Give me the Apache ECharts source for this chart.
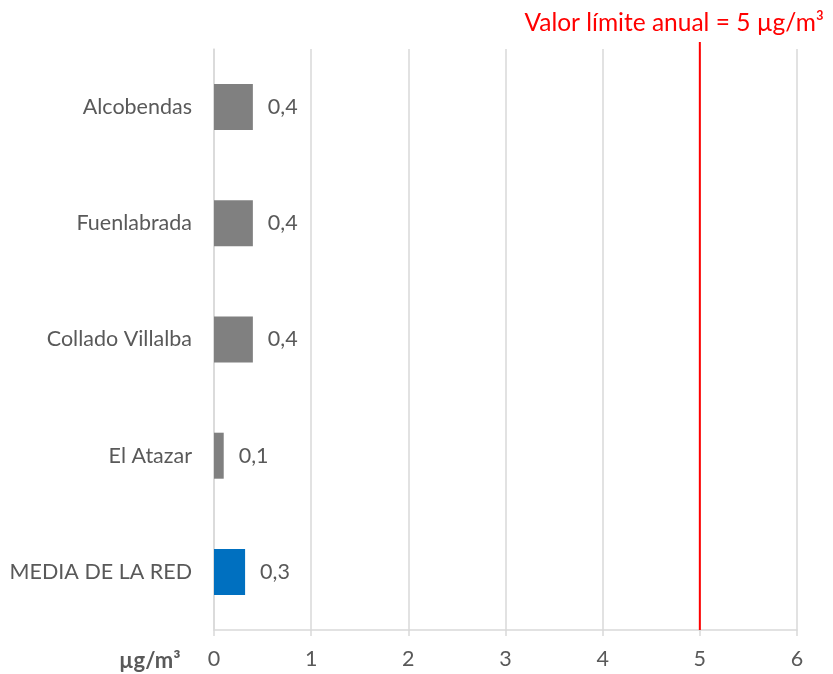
<!DOCTYPE html>
<html lang="es">
<head>
    <meta charset="UTF-8">
    <title>Valor límite anual</title>
    <script type="text/javascript" src="https://cdn.jsdelivr.net/npm/echarts@6/dist/echarts.min.js"></script>
</head>
<body style="margin:0;background:#fff">
<div id="main" style="width: 833px;height: 674px"></div>
</body>
<script>
    // datos (de arriba a abajo)
    var estaciones = ["Alcobendas", "Fuenlabrada", "Collado Villalba", "El Atazar", "MEDIA DE LA RED"]
    var valores = [0.4, 0.4, 0.4, 0.1, 0.32]
    var colores = ["#808080", "#808080", "#808080", "#808080", "#0070C0"]
    var limite = 5
    var ticksX = [0, 1, 2, 3, 4, 5, 6]

    var fuente = "Lato"
    var gris = "#595959"

    var myChart = echarts.init(document.getElementById("main"))

    var barras = []
    for (var i = 0; i < valores.length; i++) {
        barras.push({value: valores[i], itemStyle: {color: colores[i]}})
    }

    myChart.setOption({
        animation: false,
        title: {
            text: "Valor límite anual = " + limite + " µg/m³",
            right: 4,
            top: 6,
            textStyle: {color: "#FF0000", fontFamily: fuente, fontSize: 24.5, fontWeight: "normal"}
        },
        graphic: [{
            type: "text",
            left: 119,
            top: 650,
            style: {text: "µg/m³", fill: gris, font: "bold 22px Lato"}
        }],
        grid: {left: 214, right: 36, top: 49, bottom: 44, containLabel: false},
        xAxis: {
            type: "value",
            min: ticksX[0],
            max: ticksX[ticksX.length - 1],
            interval: 1,
            axisLine: {show: true, lineStyle: {color: "#d9d9d9", width: 1.5}},
            axisTick: {show: true, length: 6, lineStyle: {color: "#d9d9d9", width: 1.5}},
            splitLine: {show: true, lineStyle: {color: "#d9d9d9", width: 1.5}},
            axisLabel: {color: gris, fontFamily: fuente, fontSize: 21.5, margin: 18}
        },
        yAxis: [{
            type: "category",
            data: estaciones,
            inverse: true,
            axisLine: {show: true, lineStyle: {color: "#d9d9d9", width: 1.5}},
            axisTick: {show: false},
            axisLabel: {color: gris, fontFamily: fuente, fontSize: 21.5, margin: 22}
        }, {
            type: "value",
            min: 0,
            max: 1,
            show: false
        }],
        series: [{
            type: "bar",
            data: barras,
            barWidth: 46,
            label: {
                show: true,
                position: "right",
                distance: 15,
                color: gris,
                fontFamily: fuente,
                fontSize: 21.5,
                formatter: function (p) {
                    return p.value.toFixed(1).replace(".", ",")
                }
            }
        }, {
            // linea del valor limite
            type: "line",
            yAxisIndex: 1,
            data: [[limite, 0], [limite, 1.012]],
            symbol: "none",
            clip: false,
            lineStyle: {color: "#FF0000", width: 2},
            z: 5
        }]
    });
</script>
</html>
